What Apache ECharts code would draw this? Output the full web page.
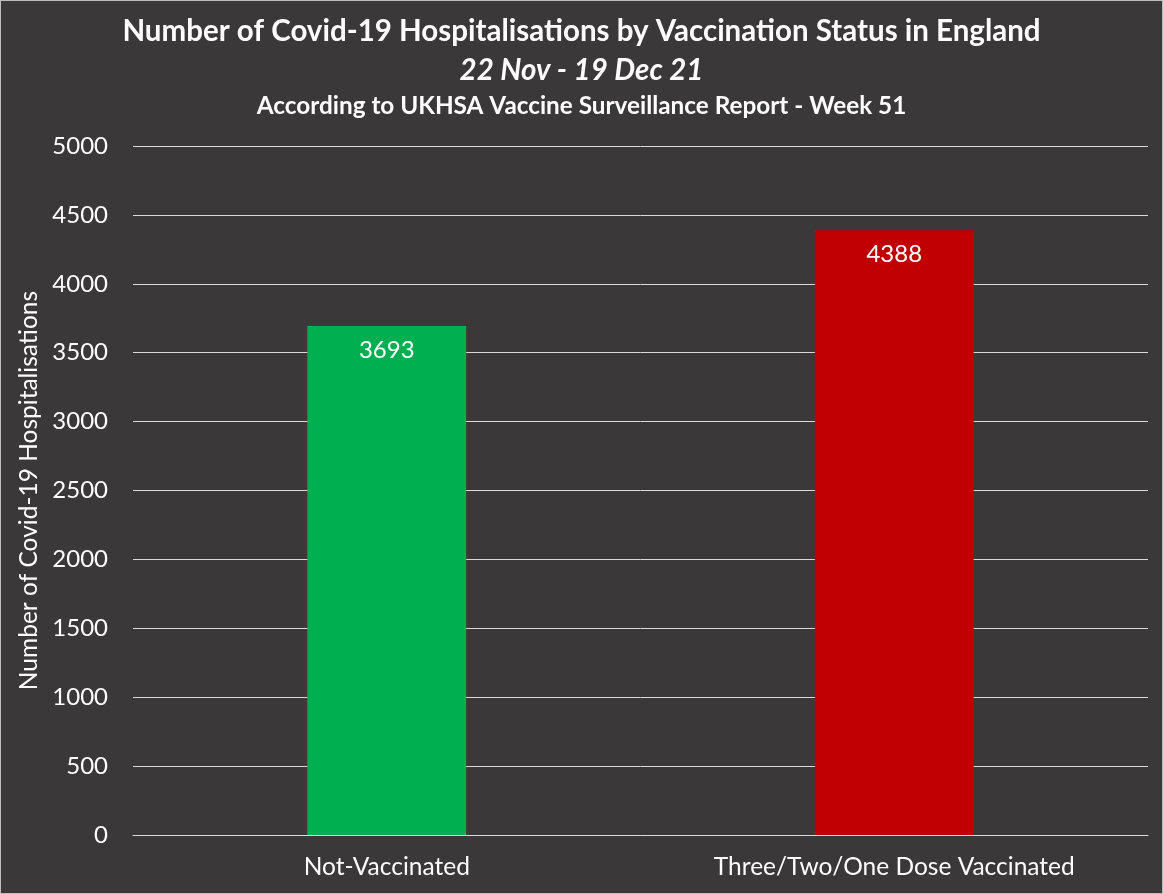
<!DOCTYPE html>
<html><head><meta charset="utf-8">
<script src="https://cdn.jsdelivr.net/npm/echarts@6/dist/echarts.min.js"></script>
<style>
html,body{margin:0;padding:0;background:#d9d9d9;}
#c{width:1161px;height:892px;border:1px solid #bfbfbf;background:#3a3839;}
</style></head><body>
<div id="c"></div>
<script>
var categories = ['Not-Vaccinated', 'Three/Two/One Dose Vaccinated'];
var values = [3693, 4388];
var barColors = ['#00b050', '#c00000'];
var titleText = 'Number of Covid-19 Hospitalisations by Vaccination Status in England';
var subText1 = '22 Nov - 19 Dec 21';
var subText2 = 'According to UKHSA Vaccine Surveillance Report - Week 51';
var yName = 'Number of Covid-19 Hospitalisations';

var FONT = 'Lato';
var chart = echarts.init(document.getElementById('c'));
chart.setOption({
  backgroundColor: '#3a3839',
  textStyle: {fontFamily: FONT},
  title: [
    {text: titleText, left: 'center', top: 10, textStyle: {color: '#fff', fontSize: 29.5, fontWeight: 'bold', fontFamily: FONT}},
    {text: subText1, left: 'center', top: 49, textStyle: {color: '#fff', fontSize: 29.5, fontWeight: 'bold', fontStyle: 'italic', fontFamily: FONT}},
    {text: subText2, left: 'center', top: 88, textStyle: {color: '#fff', fontSize: 24.3, fontWeight: 'bold', fontFamily: FONT}}
  ],
  grid: {left: 132, right: 14, top: 145, bottom: 58, containLabel: false},
  xAxis: {
    type: 'category',
    data: categories,
    axisLine: {lineStyle: {color: '#d9d9d9', width: 1}},
    axisTick: {show: false},
    axisLabel: {color: '#fff', fontSize: 24.5, margin: 20, fontFamily: FONT}
  },
  yAxis: {
    type: 'value',
    min: 0, max: 5000, interval: 500,
    name: yName,
    nameLocation: 'middle',
    nameGap: 81,
    nameTextStyle: {color: '#fff', fontSize: 24.5, fontFamily: FONT},
    axisLine: {show: false},
    axisTick: {show: false},
    axisLabel: {color: '#fff', fontSize: 24, margin: 25, fontFamily: FONT, formatter: function(v){ return String(v); }},
    splitLine: {lineStyle: {color: '#d9d9d9', width: 1}}
  },
  series: [{
    type: 'bar',
    barWidth: '31.3%',
    data: values.map(function(v, i){ return {value: v, itemStyle: {color: barColors[i]}}; }),
    label: {show: true, position: 'insideTop', distance: 12, color: '#fff', fontSize: 24, fontFamily: FONT},
    animation: false
  }],
  animation: false
});
</script>
</body></html>
